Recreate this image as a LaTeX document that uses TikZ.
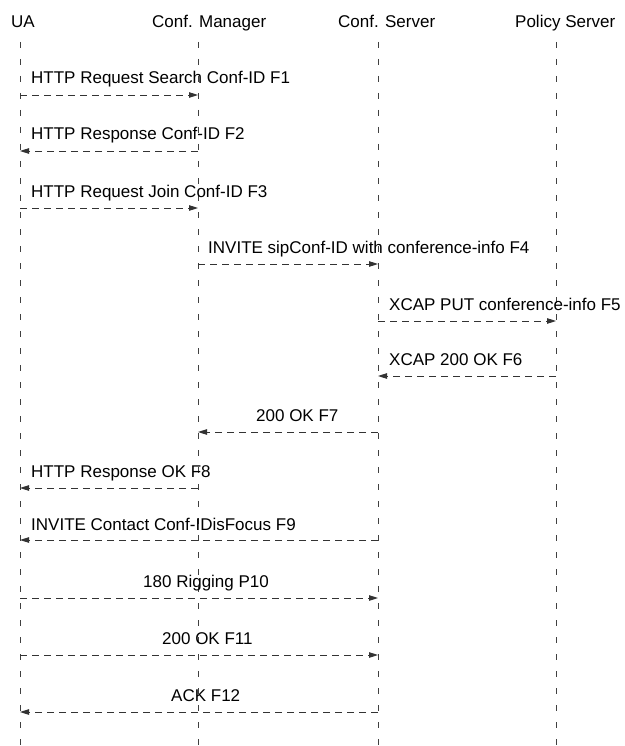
\documentclass[tikz,border=0pt]{standalone}
\usepackage{fontspec}
\setmainfont{Liberation Sans}
\usetikzlibrary{arrows.meta}

\begin{document}
\begin{tikzpicture}[x=1pt,y=-1pt,
  lifeline/.style={draw=black!75,line width=0.9pt,dash pattern=on 6pt off 11pt},
  msg/.style={draw=black!80,line width=0.9pt,dash pattern=on 7pt off 5pt,
    -{Triangle[length=9pt,width=5.5pt]}},
  head/.style={anchor=base west,inner sep=0pt,font=\fontsize{17}{20}\selectfont},
  lbl/.style={anchor=base west,inner sep=0pt,font=\fontsize{17}{20}\selectfont}]
\useasboundingbox (0,0) rectangle (624,746);

% participants
\node[head] (hua) at (11,28) {UA};
\node[head] (hcm) at (152,28) {Conf. Manager};
\node[head] (hcs) at (338,28) {Conf. Server};
\node[head] (hps) at (515,28) {Policy Server};

% lifeline tops and bottoms
\coordinate (ua) at (20,42);   \coordinate (uab) at (20,746);
\coordinate (cm) at (198,42);  \coordinate (cmb) at (198,746);
\coordinate (cs) at (378,42);  \coordinate (csb) at (378,746);
\coordinate (ps) at (556,42);  \coordinate (psb) at (556,746);

\draw[lifeline] (ua) -- (uab);
\draw[lifeline] (cm) -- (cmb);
\draw[lifeline] (cs) -- (csb);
\draw[lifeline] (ps) -- (psb);

% message rows
\coordinate (r1) at (0,95);
\coordinate (r2) at (0,151);
\coordinate (r3) at (0,208);
\coordinate (r4) at (0,264);
\coordinate (r5) at (0,321);
\coordinate (r6) at (0,376);
\coordinate (r7) at (0,432);
\coordinate (r8) at (0,488);
\coordinate (r9) at (0,540);
\coordinate (r10) at (0,598);
\coordinate (r11) at (0,655);
\coordinate (r12) at (0,712);

% messages
\draw[msg] (ua |- r1) -- (cm |- r1);
\draw[msg] (cm |- r2) -- (ua |- r2);
\draw[msg] (ua |- r3) -- (cm |- r3);
\draw[msg] (cm |- r4) -- (cs |- r4);
\draw[msg] (cs |- r5) -- (ps |- r5);
\draw[msg] (ps |- r6) -- (cs |- r6);
\draw[msg] (cs |- r7) -- (cm |- r7);
\draw[msg] (cm |- r8) -- (ua |- r8);
\draw[msg] (cs |- r9) -- (ua |- r9);
\draw[msg] (ua |- r10) -- (cs |- r10);
\draw[msg] (ua |- r11) -- (cs |- r11);
\draw[msg] (cs |- r12) -- (ua |- r12);

% message labels
\node[lbl] (l1) at (31,84) {HTTP Request Search Conf-ID F1};
\node[lbl] (l2) at (31,140) {HTTP Response Conf-ID F2};
\node[lbl] (l3) at (31,197) {HTTP Request Join Conf-ID F3};
\node[lbl] (l4) at (208,253) {INVITE sipConf-ID with conference-info F4};
\node[lbl] (l5) at (389,310) {XCAP PUT conference-info F5};
\node[lbl] (l6) at (389,365) {XCAP 200 OK F6};
\node[lbl] (l7) at (256,421) {200 OK F7};
\node[lbl] (l8) at (31,477) {HTTP Response OK F8};
\node[lbl] (l9) at (31,530) {INVITE Contact Conf-IDisFocus F9};
\node[lbl] (l10) at (143,587) {180 Rigging P10};
\node[lbl] (l11) at (162,644) {200 OK F11};
\node[lbl] (l12) at (171,701) {ACK F12};
\end{tikzpicture}
\end{document}
